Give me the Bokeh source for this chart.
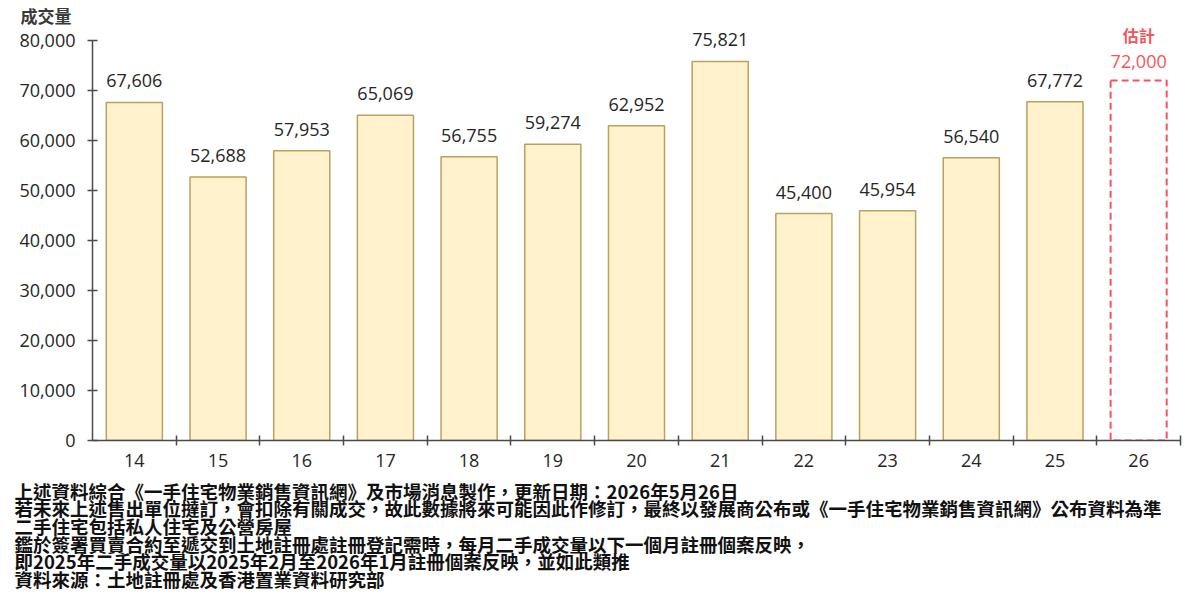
from bokeh.plotting import figure
from bokeh.models import ColumnDataSource, FixedTicker, NumeralTickFormatter, Range1d, Title
from bokeh.core.properties import value
from bokeh.embed import file_html
from bokeh.resources import INLINE

# ---- data ----
periods = ["14", "15", "16", "17", "18", "19", "20", "21", "22", "23", "24", "25", "26"]
volumes = [67606, 52688, 57953, 65069, 56755, 59274, 62952, 75821, 45400, 45954, 56540, 67772]
estimate_label = "估計"
estimate_value = 72000
y_ticks = [0, 10000, 20000, 30000, 40000, 50000, 60000, 70000, 80000]
y_title = "成交量"
footnotes = [
    "上述資料綜合《一手住宅物業銷售資訊網》及市場消息製作，更新日期：2026年5月26日",
    "若未來上述售出單位撻訂，會扣除有關成交，故此數據將來可能因此作修訂，最終以發展商公布或《一手住宅物業銷售資訊網》公布資料為準",
    "二手住宅包括私人住宅及公營房屋",
    "鑑於簽署買賣合約至遞交到土地註冊處註冊登記需時，每月二手成交量以下一個月註冊個案反映，",
    "即2025年二手成交量以2025年2月至2026年1月註冊個案反映，並如此類推",
    "資料來源：土地註冊處及香港置業資料研究部",
]

# ---- layout ----
W, H = 1192, 600
BL, BR, BT = 92, 12, 26
FH = 414
BB = H - BT - FH
Y_MAX = 82600
n = len(periods)

p = figure(width=W, height=H, output_backend="svg", toolbar_location=None,
           x_range=Range1d(0, n), y_range=Range1d(0, Y_MAX),
           min_border_left=BL, min_border_right=BR, min_border_top=BT, min_border_bottom=BB)
p.outline_line_color = None
p.grid.visible = False

AX = "#4a4a4a"
TXT = "#262626"
FONT = "Open Sans"
RED = "#f5555a"

centers = [i + 0.5 for i in range(n)]
src = ColumnDataSource(dict(x=centers[:len(volumes)], top=volumes,
                            lab=[f"{v:,}" for v in volumes]))
p.vbar(x="x", top="top", width=0.67, source=src, fill_color="#fff2cc",
       line_color="#b9a15e", line_width=1.5)
p.text(x="x", y="top", text="lab", source=src, text_align="center", text_baseline="bottom",
       y_offset=-15, text_font=value(FONT), text_font_size="18px", text_color=TXT)

est_src = ColumnDataSource(dict(x=[centers[-1]], top=[estimate_value],
                                lab=[f"{estimate_value:,}"], tag=[estimate_label]))
p.vbar(x="x", top="top", width=0.67, source=est_src, fill_color=None,
       line_color=RED, line_width=2, line_dash="7 4")
p.text(x="x", y="top", text="lab", source=est_src, text_align="center", text_baseline="bottom",
       y_offset=-13, text_font=value(FONT), text_font_size="18px", text_color=RED)
p.text(x="x", y="top", text="tag", source=est_src, text_align="center", text_baseline="bottom",
       y_offset=-34, text_font=value("Noto Sans CJK TC"), text_font_style="bold",
       text_font_size="16px", text_color=RED)

# x axis
xa = p.xaxis[0]
xa.ticker = FixedTicker(ticks=centers, minor_ticks=list(range(1, n + 1)))
xa.major_label_overrides = {c: lab for c, lab in zip(centers, periods)}
xa.major_tick_in = 0
xa.major_tick_out = 0
xa.minor_tick_in = 5
xa.minor_tick_out = 5
xa.minor_tick_line_color = AX
xa.minor_tick_line_width = 1.5
xa.axis_line_color = AX
xa.axis_line_width = 1.5
xa.major_label_text_font = FONT
xa.major_label_text_font_size = "18px"
xa.major_label_text_color = TXT
xa.major_label_standoff = 8

# y axis
ya = p.yaxis[0]
ya.ticker = FixedTicker(ticks=y_ticks)
ya.formatter = NumeralTickFormatter(format="0,0")
ya.bounds = (0, 80000)
ya.major_tick_in = 5
ya.major_tick_out = 5
ya.minor_tick_line_color = None
ya.major_tick_line_color = AX
ya.major_tick_line_width = 1.5
ya.axis_line_color = AX
ya.axis_line_width = 1.5
ya.major_label_text_font = FONT
ya.major_label_text_font_size = "18px"
ya.major_label_text_color = TXT
ya.major_label_standoff = 12

# y title (above, shifted left past the axis)
p.add_layout(Title(text=y_title, align="left", offset=-72, standoff=0,
                   text_font="Noto Sans CJK TC", text_font_style="bold",
                   text_font_size="17px", text_color="#3a3a3a"), "above")

# footnotes (below the x axis)
p.add_layout(Title(text="\n".join(footnotes), align="left", offset=-78, standoff=13,
                   text_font="Noto Sans CJK TC", text_font_style="bold",
                   text_font_size="18.5px", text_line_height=0.68,
                   text_color="#111111"), "below")

open("out.html", "w").write(file_html(p, INLINE))
